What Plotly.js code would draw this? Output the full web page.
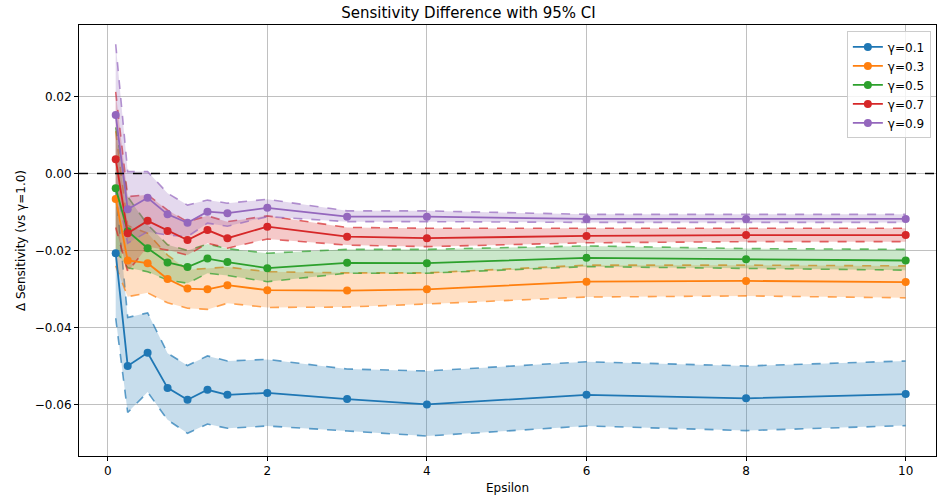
<!DOCTYPE html>
<html><head><meta charset="utf-8">
<script src="https://cdn.plot.ly/plotly-3.0.1.min.js"></script>
<style>html,body{margin:0;padding:0;background:#fff}#chart{width:937px;height:498px}</style>
</head><body><div id="chart"></div>
<script>
const eps = [0.1,0.25,0.5,0.75,1,1.25,1.5,2,3,4,6,8,10];
const seriesNames = ["γ=0.1","γ=0.3","γ=0.5","γ=0.7","γ=0.9"];
const colors = ["#1f77b4","#ff7f0e","#2ca02c","#d62728","#9467bd"];
const fillColors = ["rgba(31,119,180,0.25)","rgba(255,127,14,0.25)","rgba(44,160,44,0.25)","rgba(214,39,40,0.25)","rgba(148,103,189,0.25)"];
const dashColors = ["rgba(31,119,180,0.7)","rgba(255,127,14,0.7)","rgba(44,160,44,0.7)","rgba(214,39,40,0.7)","rgba(148,103,189,0.7)"];

const g01Mean  = [-0.0207,-0.0500,-0.0466,-0.0557,-0.0588,-0.0562,-0.0575,-0.0570,-0.0586,-0.0600,-0.0575,-0.0584,-0.0573];
const g01Upper = [-0.0040,-0.0374,-0.0362,-0.0467,-0.0499,-0.0474,-0.0487,-0.0483,-0.0508,-0.0513,-0.0489,-0.0500,-0.0487];
const g01Lower = [-0.0376,-0.0621,-0.0568,-0.0640,-0.0675,-0.0651,-0.0662,-0.0656,-0.0669,-0.0682,-0.0656,-0.0668,-0.0655];

const g03Mean  = [-0.0066,-0.0226,-0.0233,-0.0274,-0.0299,-0.0301,-0.0290,-0.0303,-0.0304,-0.0301,-0.0281,-0.0279,-0.0282];
const g03Upper = [0.0110,-0.0135,-0.0155,-0.0212,-0.0250,-0.0247,-0.0243,-0.0255,-0.0258,-0.0258,-0.0238,-0.0238,-0.0240];
const g03Lower = [-0.0240,-0.0320,-0.0310,-0.0336,-0.0350,-0.0353,-0.0337,-0.0348,-0.0347,-0.0339,-0.0321,-0.0318,-0.0323];

const g05Mean  = [-0.0038,-0.0150,-0.0194,-0.0231,-0.0243,-0.0221,-0.0230,-0.0246,-0.0232,-0.0233,-0.0219,-0.0223,-0.0226];
const g05Upper = [0.0120,-0.0060,-0.0133,-0.0185,-0.0200,-0.0183,-0.0195,-0.0207,-0.0197,-0.0197,-0.0188,-0.0195,-0.0197];
const g05Lower = [-0.0200,-0.0245,-0.0255,-0.0277,-0.0285,-0.0259,-0.0265,-0.0281,-0.0259,-0.0259,-0.0242,-0.0246,-0.0251];

const g07Mean  = [0.0037,-0.0155,-0.0123,-0.0149,-0.0173,-0.0147,-0.0168,-0.0138,-0.0164,-0.0168,-0.0162,-0.0160,-0.0160];
const g07Upper = [0.0212,-0.0060,-0.0055,-0.0095,-0.0125,-0.0110,-0.0125,-0.0110,-0.0140,-0.0142,-0.0142,-0.0142,-0.0142];
const g07Lower = [-0.0140,-0.0255,-0.0190,-0.0199,-0.0212,-0.0181,-0.0194,-0.0170,-0.0186,-0.0190,-0.0180,-0.0177,-0.0177];

const g09Mean  = [0.0152,-0.0093,-0.0063,-0.0106,-0.0128,-0.0099,-0.0103,-0.0089,-0.0112,-0.0112,-0.0118,-0.0118,-0.0118];
const g09Upper = [0.0336,0.0005,0.0005,-0.0051,-0.0082,-0.0069,-0.0077,-0.0067,-0.0097,-0.0097,-0.0106,-0.0106,-0.0106];
const g09Lower = [-0.0030,-0.0181,-0.0151,-0.0160,-0.0164,-0.0129,-0.0137,-0.0112,-0.0125,-0.0125,-0.0127,-0.0127,-0.0127];

const means = [g01Mean,g03Mean,g05Mean,g07Mean,g09Mean];
const uppers = [g01Upper,g03Upper,g05Upper,g07Upper,g09Upper];
const lowers = [g01Lower,g03Lower,g05Lower,g07Lower,g09Lower];

const traces = [];
for (let i = 0; i < 5; i++) {
  traces.push({x: eps, y: lowers[i], type:'scatter', mode:'lines', showlegend:false, hoverinfo:'skip',
    line:{color:dashColors[i], width:1.6, dash:'dash'}});
  traces.push({x: eps, y: uppers[i], type:'scatter', mode:'lines', showlegend:false, hoverinfo:'skip',
    fill:'tonexty', fillcolor:fillColors[i], line:{color:dashColors[i], width:1.6, dash:'dash'}});
}
for (let i = 0; i < 5; i++) {
  traces.push({x: eps, y: means[i], type:'scatter', mode:'lines+markers', name: seriesNames[i],
    line:{color:colors[i], width:1.8}, marker:{color:colors[i], size:8}});
}

const font = {family:'DejaVu Sans, sans-serif', color:'#000', size:12};
const layout = {
  width:937, height:498,
  margin:{l:79, r:1, t:25, b:42},
  paper_bgcolor:'#fff', plot_bgcolor:'#fff',
  font: font,
  title:{text:'Sensitivity Difference with 95% CI', font:{family:'DejaVu Sans, sans-serif', size:15, color:'#000'}, x:0.5, xanchor:'center', y:0.985, yanchor:'top'},
  xaxis:{range:[-0.36,10.38], tickvals:[0,2,4,6,8,10], ticktext:['0','2','4','6','8','10'],
    showgrid:true, gridcolor:'#b0b0b0', gridwidth:0.8, zeroline:false,
    showline:true, linecolor:'#000', linewidth:1, mirror:true,
    ticks:'outside', ticklen:4, tickcolor:'#000', tickfont:{size:12},
    title:{text:'Epsilon', font:{size:12}, standoff:6}},
  yaxis:{range:[-0.0734,0.0386], tickvals:[-0.06,-0.04,-0.02,0,0.02], ticktext:['−0.06','−0.04','−0.02','0.00','0.02'],
    showgrid:true, gridcolor:'#b0b0b0', gridwidth:0.8, zeroline:false,
    showline:true, linecolor:'#000', linewidth:1, mirror:true,
    ticks:'outside', ticklen:4, tickcolor:'#000', tickfont:{size:12},
    title:{text:'Δ Sensitivity (vs γ=1.0)', font:{size:12}, standoff:6}},
  shapes:[{type:'line', xref:'paper', x0:0, x1:1, yref:'y', y0:0, y1:0, line:{color:'#000', width:1.6, dash:'dash'}, layer:'above'}],
  legend:{x:0.994, y:0.985, xanchor:'right', yanchor:'top', traceorder:'normal', bgcolor:'rgba(255,255,255,0.8)', bordercolor:'#cccccc', borderwidth:1,
    font:{size:12}, tracegroupgap:0, itemwidth:30}
};
Plotly.newPlot('chart', traces, layout, {displayModeBar:false, staticPlot:true});
</script></body></html>
